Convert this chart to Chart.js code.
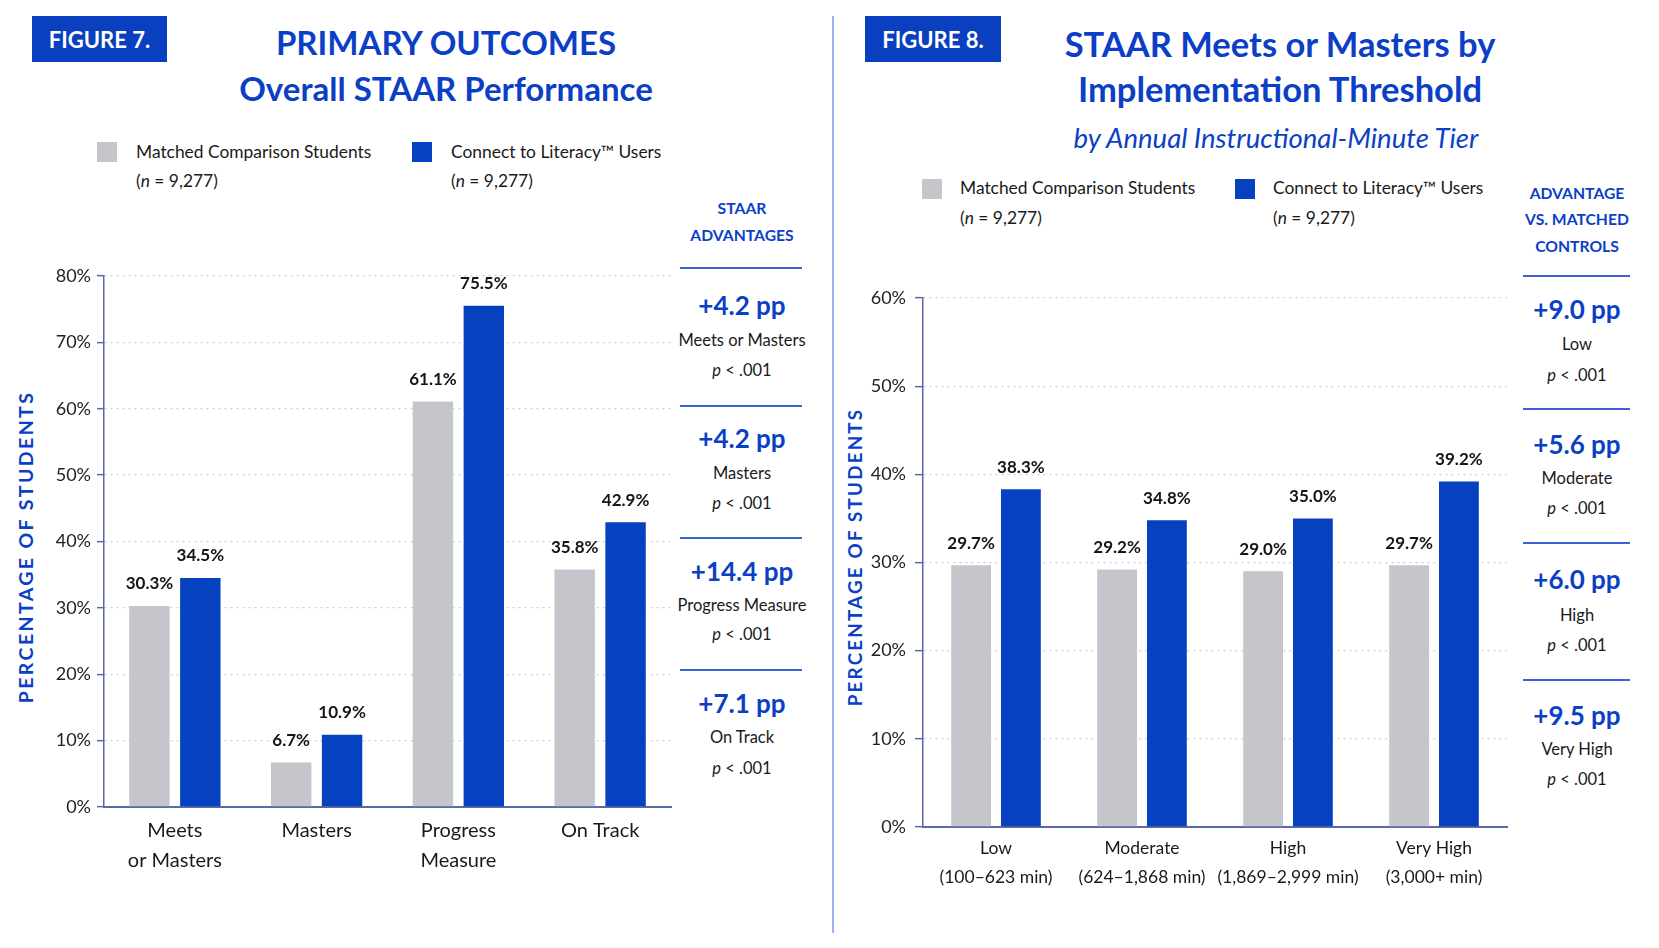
<!DOCTYPE html>
<html>
<head>
<meta charset="utf-8">
<script src="https://cdn.jsdelivr.net/npm/chart.js@4.4.1/dist/chart.umd.min.js"></script>
<style>
  html, body { margin:0; padding:0; background:#fff; }
  body { width:1659px; height:948px; position:relative; overflow:hidden; font-family:Lato, "Open Sans", sans-serif; color:#1a1a1a; }
  .abs { position:absolute; }
  .figbox { background:#0a3fc0; color:#fff; font-weight:700; font-size:22px; display:flex; align-items:center; justify-content:center; }
  .title { color:#0b3fc6; font-weight:700; text-align:center; white-space:nowrap; }
  .subtitle { color:#0b3fc6; font-style:italic; font-size:27.5px; text-align:center; white-space:nowrap; }
  .sq { width:20px; height:20px; }
  .leg { font-size:17.4px; white-space:nowrap; color:#1a1a1a; }
  .c { transform:translate(-50%,-50%); white-space:nowrap; text-align:center; }
  .sidehead { color:#0b3fc6; font-weight:700; font-size:15.7px; }
  .big { color:#0b3fc6; font-weight:700; font-size:26px; }
  .small { font-size:16.5px; color:#1a1a1a; }
  .rule { height:2px; background:#3a63d8; }
  .ytitle { color:#0b3fc6; font-weight:700; transform:translate(-50%,-50%) rotate(-90deg); white-space:nowrap; }
  canvas { position:absolute; }
</style>
</head>
<body>

<!-- Figure 7 header -->
<div class="abs figbox" style="left:32px;top:16px;width:135px;height:46px;">FIGURE 7.</div>
<div class="abs title" style="left:146px;top:19px;width:600px;font-size:33px;line-height:46px;">PRIMARY OUTCOMES<br>Overall STAAR Performance</div>

<div class="abs sq" style="left:97px;top:142px;background:#c4c6cb;"></div>
<div class="abs leg" style="left:136px;top:137px;line-height:29px;">Matched Comparison Students<br>(<i>n</i> = 9,277)</div>
<div class="abs sq" style="left:412px;top:142px;background:#0642bf;"></div>
<div class="abs leg" style="left:451px;top:137px;line-height:29px;">Connect to Literacy™ Users<br>(<i>n</i> = 9,277)</div>

<div class="abs ytitle" style="left:25px;top:547px;font-size:19.5px;letter-spacing:2.4px;">PERCENTAGE OF STUDENTS</div>

<!-- Figure 8 header -->
<div class="abs" style="left:832px;top:16px;width:1.5px;height:917px;background:#9db3ee;"></div>
<div class="abs figbox" style="left:865px;top:16px;width:136px;height:46px;">FIGURE 8.</div>
<div class="abs title" style="left:980px;top:21px;width:600px;font-size:34.5px;line-height:45px;">STAAR Meets or Masters by<br>Implementation Threshold</div>
<div class="abs subtitle c" style="left:1276px;top:137px;">by Annual Instructional-Minute Tier</div>

<div class="abs sq" style="left:922px;top:179px;background:#c4c6cb;"></div>
<div class="abs leg" style="left:960px;top:173px;line-height:30px;">Matched Comparison Students<br>(<i>n</i> = 9,277)</div>
<div class="abs sq" style="left:1235px;top:179px;background:#0642bf;"></div>
<div class="abs leg" style="left:1273px;top:173px;line-height:30px;">Connect to Literacy™ Users<br>(<i>n</i> = 9,277)</div>

<div class="abs ytitle" style="left:854px;top:557px;font-size:18.8px;letter-spacing:2.2px;">PERCENTAGE OF STUDENTS</div>

<div id="side1"></div>
<div id="side2"></div>

<canvas id="c1" width="680" height="660" style="left:0px;top:240px;"></canvas>
<canvas id="c2" width="680" height="660" style="left:840px;top:260px;"></canvas>

<script>
// ---------- Data ----------
const fig7Categories = [['Meets', 'or Masters'], ['Masters'], ['Progress', 'Measure'], ['On Track']];
const fig7Matched = [30.3, 6.7, 61.1, 35.8];
const fig7Users = [34.5, 10.9, 75.5, 42.9];
const fig7YTicks = { min: 0, max: 80, step: 10 };

const fig8Categories = [['Low', '(100–623 min)'], ['Moderate', '(624–1,868 min)'], ['High', '(1,869–2,999 min)'], ['Very High', '(3,000+ min)']];
const fig8Matched = [29.7, 29.2, 29.0, 29.7];
const fig8Users = [38.3, 34.8, 35.0, 39.2];
const fig8YTicks = { min: 0, max: 60, step: 10 };

const seriesNames = ['Matched Comparison Students', 'Connect to Literacy™ Users'];

const fig7AdvHeader = ['STAAR', 'ADVANTAGES'];
const fig7AdvValues = ['+4.2 pp', '+4.2 pp', '+14.4 pp', '+7.1 pp'];
const fig7AdvLabels = ['Meets or Masters', 'Masters', 'Progress Measure', 'On Track'];

const fig8AdvHeader = ['ADVANTAGE', 'VS. MATCHED', 'CONTROLS'];
const fig8AdvValues = ['+9.0 pp', '+5.6 pp', '+6.0 pp', '+9.5 pp'];
const fig8AdvLabels = ['Low', 'Moderate', 'High', 'Very High'];
const pValueText = '<i>p</i> &lt; .001';

// ---------- Sidebars ----------
function el(parent, cls, html, style) {
  const d = document.createElement('div');
  d.className = 'abs ' + cls;
  d.innerHTML = html;
  d.setAttribute('style', style);
  parent.appendChild(d);
  return d;
}
function buildSide(id, cx, headers, headY, rules, ruleX1, ruleX2, values, labels, rows) {
  const p = document.getElementById(id);
  headers.forEach((h, i) => el(p, 'c sidehead', h, `left:${cx}px;top:${headY[i]}px;`));
  rules.forEach(y => el(p, 'rule', '', `left:${ruleX1}px;top:${y - 1}px;width:${ruleX2 - ruleX1}px;`));
  values.forEach((v, i) => {
    el(p, 'c big', v, `left:${cx}px;top:${rows[i][0]}px;`);
    el(p, 'c small', labels[i], `left:${cx}px;top:${rows[i][1]}px;`);
    el(p, 'c small', pValueText, `left:${cx}px;top:${rows[i][2]}px;`);
  });
}
buildSide('side1', 742, fig7AdvHeader, [208, 235], [268, 406, 538, 670], 680, 802,
  fig7AdvValues, fig7AdvLabels, [[305, 340, 370], [438, 473, 503], [571, 605, 634], [703, 737, 768]]);
buildSide('side2', 1577, fig8AdvHeader, [193, 219, 246], [276, 409, 543, 680], 1523, 1630,
  fig8AdvValues, fig8AdvLabels, [[309, 344, 375], [444, 478, 508], [579, 615, 645], [715, 749, 779]]);

// ---------- Charts ----------
const GRAY = '#c4c6cb', BLUE = '#0642bf', AXIS = '#5a6aa6';

const valueLabels = {
  id: 'valueLabels',
  afterDatasetsDraw(chart) {
    const { ctx } = chart;
    ctx.save();
    ctx.font = 'bold 17px Lato';
    ctx.fillStyle = '#151515';
    ctx.textAlign = 'center';
    ctx.textBaseline = 'middle';
    chart.data.datasets.forEach((ds, i) => {
      chart.getDatasetMeta(i).data.forEach((bar, j) => {
        ctx.fillText(ds.data[j].toFixed(1) + '%', bar.x, bar.y - 22);
      });
    });
    ctx.restore();
  }
};

function makeChart(id, cats, a, b, yt, cfg) {
  return new Chart(document.getElementById(id), {
    type: 'bar',
    data: {
      labels: cats,
      datasets: [
        { label: seriesNames[0], data: a, backgroundColor: GRAY, borderWidth: 0, categoryPercentage: cfg.catPct, barPercentage: cfg.barPct },
        { label: seriesNames[1], data: b, backgroundColor: BLUE, borderWidth: 0, categoryPercentage: cfg.catPct, barPercentage: cfg.barPct }
      ]
    },
    options: {
      responsive: false,
      animation: false,
      layout: { padding: { left: 0, top: cfg.padTop, right: cfg.padRight, bottom: 0 } },
      plugins: { legend: { display: false }, tooltip: { enabled: false } },
      scales: {
        x: {
          z: 1,
          grid: { display: false, drawTicks: false },
          border: { display: true, color: AXIS, width: 2 },
          ticks: { color: '#1a1a1a', padding: cfg.xPad, maxRotation: 0, minRotation: 0, autoSkip: false,
                   font: { family: 'Lato', size: cfg.xFont, lineHeight: cfg.xLine } },
          afterFit(s) { s.height = cfg.xHeight; }
        },
        y: {
          min: yt.min, max: yt.max,
          grid: { color: '#cfd0d5', lineWidth: 1.3, tickColor: AXIS, tickLength: cfg.tickLen, tickWidth: 1.5 },
          border: { display: true, color: AXIS, width: 1.5, dash: [2, 4] },
          ticks: { stepSize: yt.step, color: '#222', padding: cfg.yPad, font: { family: 'Lato', size: 18 }, callback: v => v + '%' },
          afterFit(s) { s.width = cfg.yWidth; }
        }
      }
    },
    plugins: [valueLabels]
  });
}

function draw() {
  makeChart('c1', fig7Categories, fig7Matched, fig7Users, fig7YTicks, {
    catPct: 0.718, barPct: 0.794, padTop: 36, padRight: 9, yWidth: 104, xHeight: 93,
    xPad: 9, xFont: 20, xLine: 1.5, tickLen: 7, yPad: 6
  });
  makeChart('c2', fig8Categories, fig8Matched, fig8Users, fig8YTicks, {
    catPct: 0.682, barPct: 0.80, padTop: 38, padRight: 13, yWidth: 83, xHeight: 93,
    xPad: 6.5, xFont: 17.5, xLine: 1.66, tickLen: 8, yPad: 9
  });
}
Promise.all([
  document.fonts.load('16px Lato'), document.fonts.load('bold 16px Lato')
]).then(draw, draw);
</script>
</body>
</html>
